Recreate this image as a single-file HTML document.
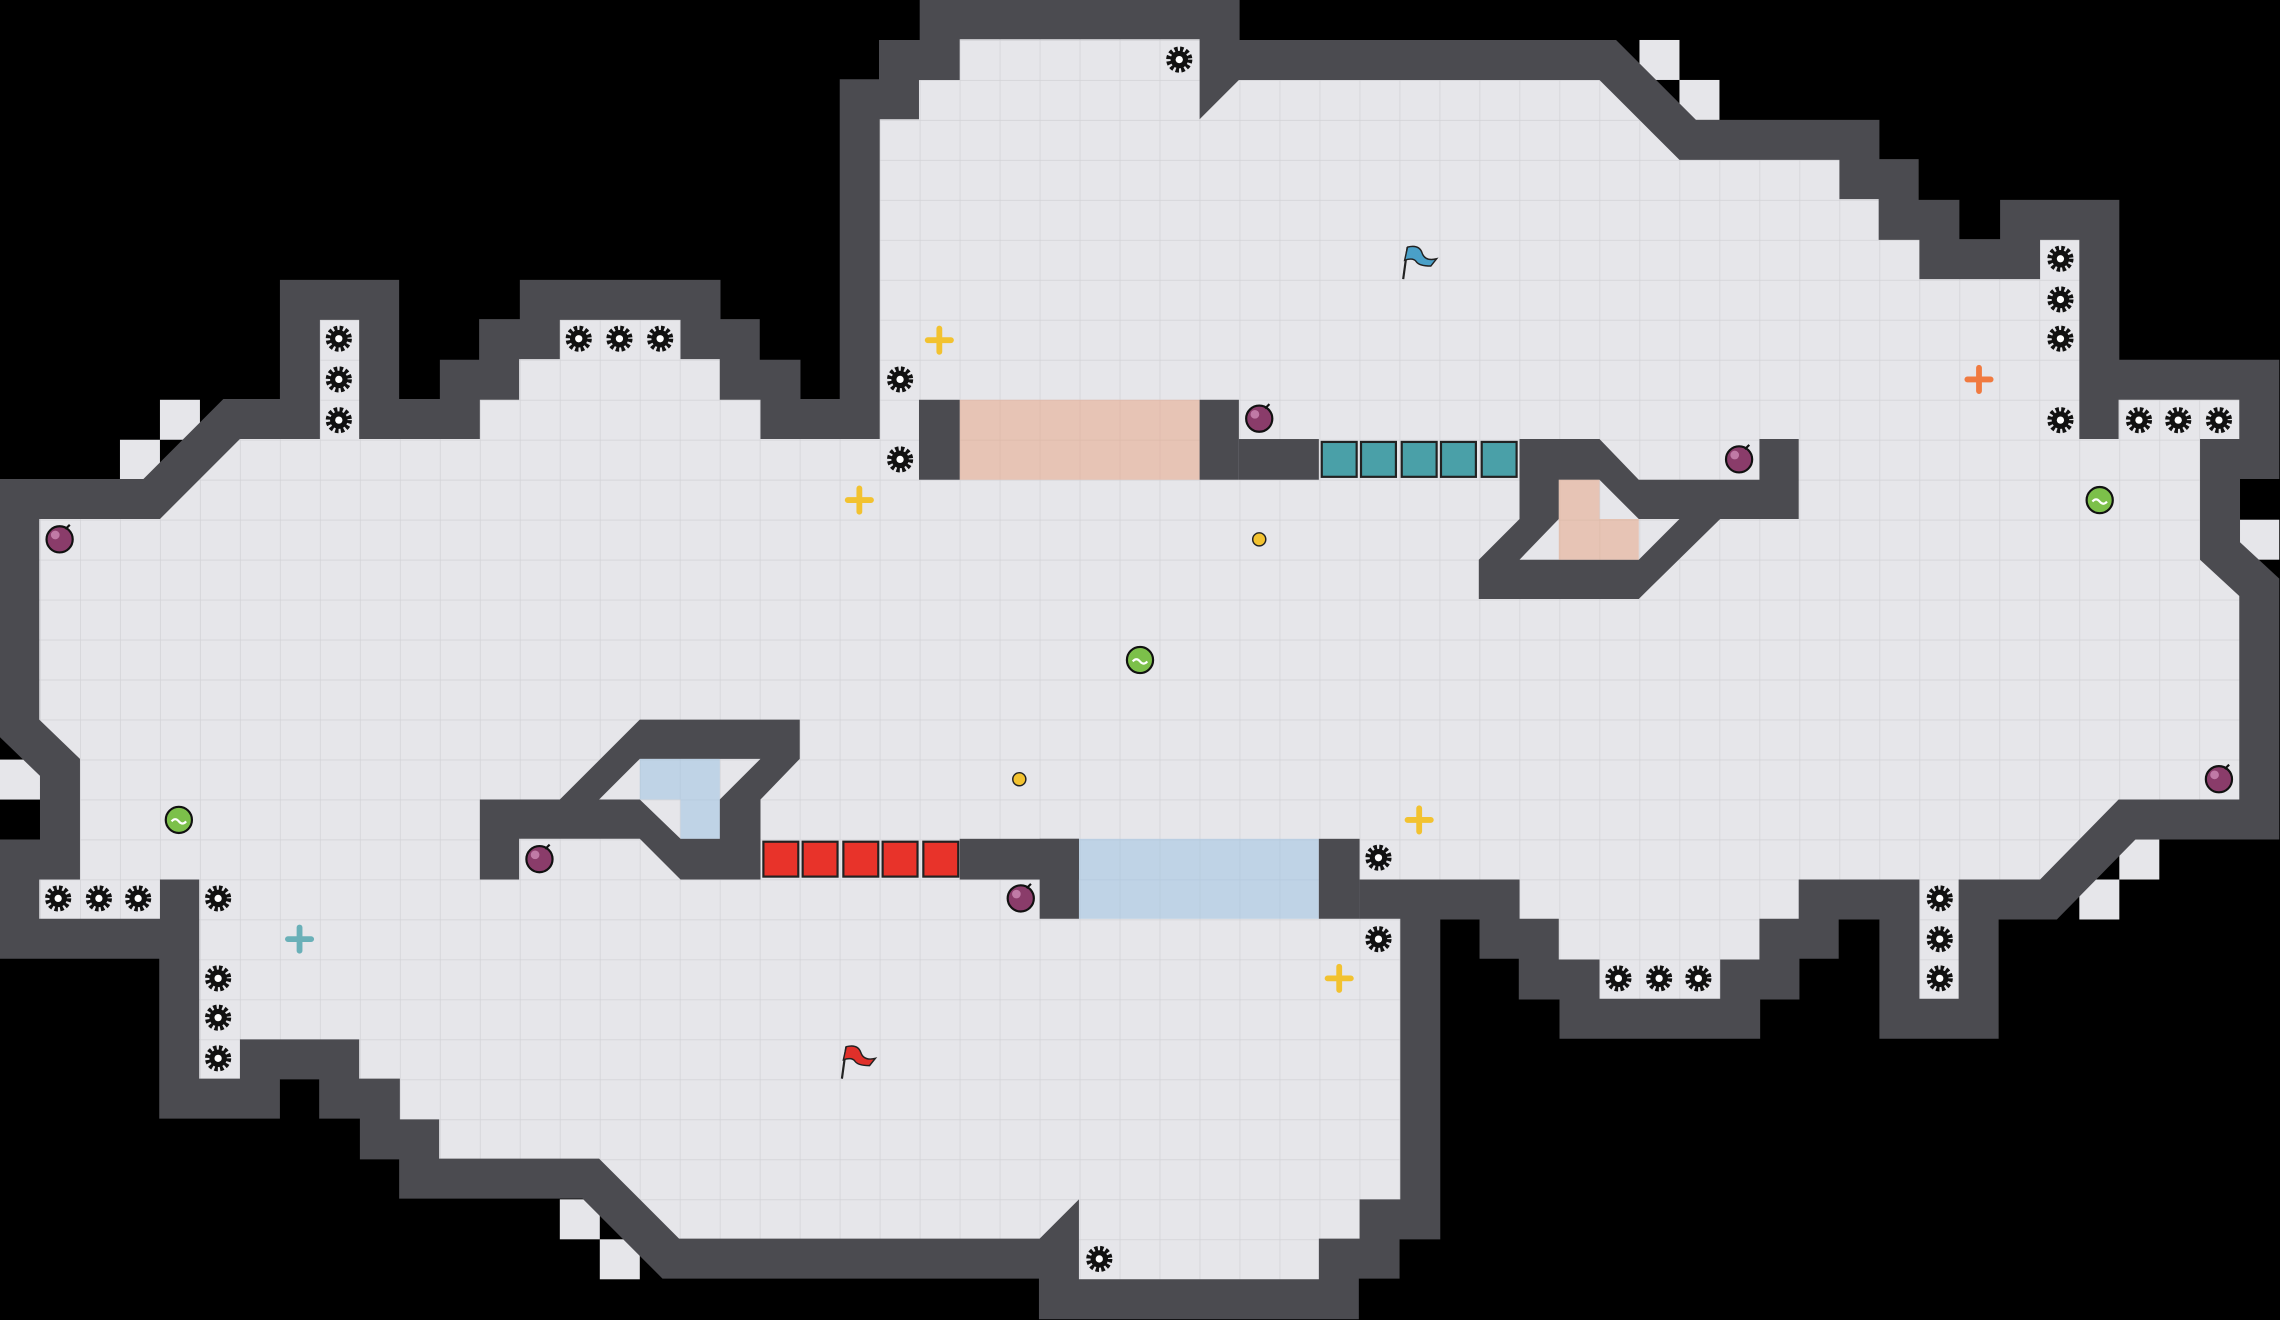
<!DOCTYPE html>
<html><head><meta charset="utf-8"><style>html,body{margin:0;padding:0;background:#000}svg{display:block}</style></head>
<body>
<svg width="2280" height="1320" viewBox="0 0 1568 908" preserveAspectRatio="none" xmlns="http://www.w3.org/2000/svg">
<defs>
<pattern id="g" width="27.5" height="27.5" patternUnits="userSpaceOnUse">
<rect width="27.5" height="27.5" fill="#e6e6ea"/>
<path d="M0 0H27.5M0 0V27.5" stroke="#d2d2d6" stroke-width="1" fill="none"/>
</pattern>
<g id="gear"><circle r="7" fill="none" stroke="#111" stroke-width="4" stroke-dasharray="2.2 1.5"/><circle r="6" fill="#111"/><circle r="2.5" fill="#fff"/></g>
<g id="bomb"><circle r="9" fill="#8a3c6a" stroke="#111" stroke-width="1.5"/><circle cx="-3" cy="-3" r="3" fill="#c07aa6"/><path d="M4-7l3-3" stroke="#111" stroke-width="1.5"/></g>
<g id="green"><circle r="9" fill="#7cc04a" stroke="#111" stroke-width="1.5"/><path d="M-5 1q2.5-3 5 0t5 0" stroke="#fff" fill="none" stroke-width="1.5"/></g>
</defs>
<rect width="1568" height="908" fill="#000"/>
<!-- outer corner floor tiles -->
<g fill="#e6e6ea">
<rect x="82.5" y="302.5" width="27.5" height="27.5"/><rect x="110" y="275" width="27.5" height="27.5"/>
<rect x="1127.5" y="27.5" width="27.5" height="27.5"/><rect x="1155" y="55" width="27.5" height="27.5"/>
<rect x="1540" y="357.5" width="27.5" height="27.5"/>
<rect x="1457.5" y="577.5" width="27.5" height="27.5"/><rect x="1430" y="605" width="27.5" height="27.5"/>
<rect x="0" y="522.5" width="27.5" height="27.5"/>
<rect x="385" y="825" width="27.5" height="27.5"/><rect x="412.5" y="852.5" width="27.5" height="27.5"/>
</g>
<polygon points="660,27 825,27 825,82 852,55 1100,55 1155,110 1265,110 1265,137 1292,137 1292,165 1320,165 1320,192 1403,192 1403,165 1430,165 1430,302 1457,302 1457,275 1540,275 1540,302 1513,302 1513,385 1540,410 1540,550 1457,550 1403,605 1347,605 1347,687 1320,687 1320,605 1237,605 1237,632 1210,632 1210,660 1183,660 1183,687 1100,687 1100,660 1072,660 1072,632 1045,632 1045,605 963,605 963,825 935,825 935,852 907,852 907,880 742,880 742,825 715,852 467,852 412,797 302,797 302,770 275,770 275,742 247,742 247,715 165,715 165,742 137,742 137,605 110,605 110,632 27,632 27,605 55,605 55,522 27,495 27,357 110,357 165,302 220,302 220,220 247,220 247,302 330,302 330,275 357,275 357,247 385,247 385,220 468,220 468,247 495,247 495,275 523,275 523,302 605,302 605,82 632,82 632,55 660,55" fill="none" stroke="#4b4b50" stroke-width="55" stroke-linejoin="miter" stroke-miterlimit="2"/>
<polygon points="660,27 825,27 825,82 852,55 1100,55 1155,110 1265,110 1265,137 1292,137 1292,165 1320,165 1320,192 1403,192 1403,165 1430,165 1430,302 1457,302 1457,275 1540,275 1540,302 1513,302 1513,385 1540,410 1540,550 1457,550 1403,605 1347,605 1347,687 1320,687 1320,605 1237,605 1237,632 1210,632 1210,660 1183,660 1183,687 1100,687 1100,660 1072,660 1072,632 1045,632 1045,605 963,605 963,825 935,825 935,852 907,852 907,880 742,880 742,825 715,852 467,852 412,797 302,797 302,770 275,770 275,742 247,742 247,715 165,715 165,742 137,742 137,605 110,605 110,632 27,632 27,605 55,605 55,522 27,495 27,357 110,357 165,302 220,302 220,220 247,220 247,302 330,302 330,275 357,275 357,247 385,247 385,220 468,220 468,247 495,247 495,275 523,275 523,302 605,302 605,82 632,82 632,55 660,55" fill="url(#g)"/>
<!-- tinted floors -->
<rect x="660" y="275" width="165" height="55" fill="#e8a889" opacity=".55"/>
<rect x="742" y="577" width="165" height="55" fill="#9fc3e2" opacity=".55"/>
<!-- interior walls -->
<g fill="#4b4b50">
<rect x="632" y="275" width="28" height="55"/>
<rect x="825" y="275" width="27" height="55"/>
<rect x="852" y="302" width="55" height="28"/>
<rect x="907" y="577" width="28" height="55"/>
<rect x="935" y="605" width="110" height="27"/>
<rect x="660" y="577" width="82" height="28"/>
<rect x="715" y="577" width="27" height="55"/>
<path fill-rule="evenodd" d="M1045 302H1100L1127 330H1210V302H1237V357H1183L1127 412H1017V385L1045 357Z M1072 330H1100L1127 357H1155L1127 385H1045L1072 357Z"/>
<path fill-rule="evenodd" d="M440 495H550V522L523 550V605H468L440 577H357V605H330V550H385Z M440 522H523L495 550V577H468L440 550H412Z"/>
</g>
<path d="M1072 330H1100V357H1127V385H1072Z" fill="#e8a889" opacity=".55"/>
<path d="M440 522H495V577H468V550H440Z" fill="#9fc3e2" opacity=".55"/>
<!-- gates -->
<g stroke="#222" stroke-width="1.5">
<rect x="909" y="304" width="24" height="24" fill="#4aa0a8"/><rect x="936" y="304" width="24" height="24" fill="#4aa0a8"/><rect x="964" y="304" width="24" height="24" fill="#4aa0a8"/><rect x="991" y="304" width="24" height="24" fill="#4aa0a8"/><rect x="1019" y="304" width="24" height="24" fill="#4aa0a8"/>
<rect x="525" y="579" width="24" height="24" fill="#e8332a"/><rect x="552" y="579" width="24" height="24" fill="#e8332a"/><rect x="580" y="579" width="24" height="24" fill="#e8332a"/><rect x="607" y="579" width="24" height="24" fill="#e8332a"/><rect x="635" y="579" width="24" height="24" fill="#e8332a"/>
</g>
<!-- gears -->
<g>
<use href="#gear" x="811" y="41"/><use href="#gear" x="619" y="261"/><use href="#gear" x="619" y="316"/>
<use href="#gear" x="233" y="233"/><use href="#gear" x="233" y="261"/><use href="#gear" x="233" y="289"/>
<use href="#gear" x="398" y="233"/><use href="#gear" x="426" y="233"/><use href="#gear" x="454" y="233"/>
<use href="#gear" x="1417" y="178"/><use href="#gear" x="1417" y="206"/><use href="#gear" x="1417" y="233"/><use href="#gear" x="1417" y="289"/>
<use href="#gear" x="1471" y="289"/><use href="#gear" x="1498" y="289"/><use href="#gear" x="1526" y="289"/>
<use href="#gear" x="40" y="618"/><use href="#gear" x="68" y="618"/><use href="#gear" x="95" y="618"/><use href="#gear" x="150" y="618"/>
<use href="#gear" x="150" y="673"/><use href="#gear" x="150" y="700"/><use href="#gear" x="150" y="728"/>
<use href="#gear" x="948" y="590"/><use href="#gear" x="948" y="646"/><use href="#gear" x="756" y="866"/>
<use href="#gear" x="1113" y="673"/><use href="#gear" x="1141" y="673"/><use href="#gear" x="1168" y="673"/>
<use href="#gear" x="1334" y="618"/><use href="#gear" x="1334" y="646"/><use href="#gear" x="1334" y="673"/>
</g>
<use href="#bomb" x="41" y="371"/><use href="#bomb" x="866" y="288"/><use href="#bomb" x="1196" y="316"/><use href="#bomb" x="371" y="591"/><use href="#bomb" x="702" y="618"/><use href="#bomb" x="1526" y="536"/>
<use href="#green" x="784" y="454"/><use href="#green" x="123" y="564"/><use href="#green" x="1444" y="344"/>
<!-- boosts -->
<g stroke-width="4" stroke-linecap="round">
<path d="M646 226v16M638 234h16" stroke="#f2c230"/>
<path d="M591 336v16M583 344h16" stroke="#f2c230"/>
<path d="M976 556v16M968 564h16" stroke="#f2c230"/>
<path d="M921 665v16M913 673h16" stroke="#f2c230"/>
<path d="M1361 253v16M1353 261h16" stroke="#f07a40"/>
<path d="M206 638v16M198 646h16" stroke="#6ab0b8"/>
</g>
<circle cx="866" cy="371" r="4.5" fill="#f2c230" stroke="#222"/>
<circle cx="701" cy="536" r="4.5" fill="#f2c230" stroke="#222"/>
<!-- flags -->
<path d="M965 192L968 170" stroke="#222" stroke-width="1.5"/><path d="M968 170q8-2 10 4t10 4l-4 5q-8 0-10-3t-8-1z" fill="#4aa0c8" stroke="#222"/>
<path d="M579 742L582 720" stroke="#222" stroke-width="1.5"/><path d="M582 720q8-2 10 4t10 4l-4 5q-8 0-10-3t-8-1z" fill="#e0302a" stroke="#222"/>
</svg>
</body></html>
